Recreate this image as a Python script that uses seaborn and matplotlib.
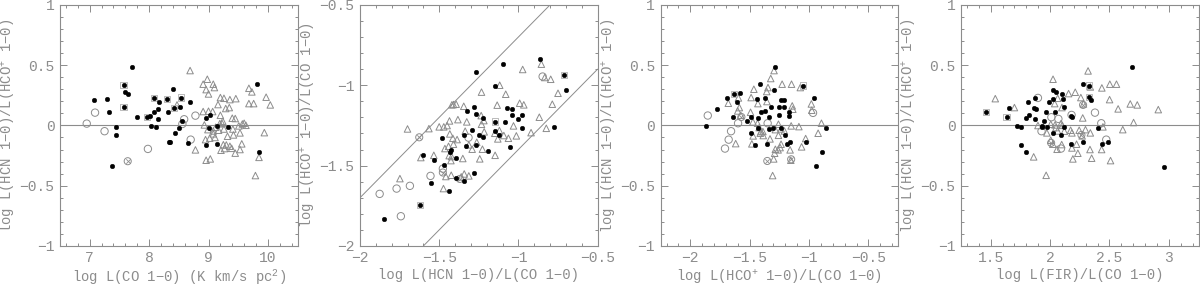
import matplotlib
matplotlib.use("Agg")
import matplotlib.pyplot as plt
from matplotlib.ticker import MultipleLocator
import seaborn as sns

# ---- panel 1: log L(CO) vs log HCN/HCO+ ----
p1_dot_x = [7.08, 7.29, 7.33, 7.57, 7.59, 7.65, 7.57, 7.72, 7.80, 7.45, 7.45, 7.37, 7.97, 8.02,
            8.08, 8.09, 8.15, 8.16, 8.15, 8.03, 8.12, 8.30, 8.31, 8.41, 8.42, 8.52, 8.54, 8.56,
            8.50, 8.44, 8.34, 8.36, 8.66, 8.69, 8.95, 9.02, 9.00, 9.14, 9.33, 8.96, 9.15, 9.81, 9.85]
p1_dot_y = [0.214, 0.217, 0.115, 0.333, 0.275, 0.26, 0.15, 0.488, 0.07, -0.015, -0.079, -0.34,
            0.068, 0.076, 0.228, 0.112, 0.134, 0.195, 0.051, -0.007, -0.015, 0.22, 0.112, 0.30,
            0.142, 0.15, 0.231, 0.035, -0.023, -0.062, -0.137, -0.134, -0.15, 0.195, 0.065, 0.09,
            -0.024, -0.004, -0.015, -0.16, -0.155, 0.342, -0.223]
p1_open_x = [6.95, 7.09, 7.25, 7.98, 8.59, 8.56, 8.78, 8.70]
p1_open_y = [0.015, 0.106, -0.048, -0.195, 0.051, 0.012, 0.081, -0.118]
p1_cross_x = [7.64]
p1_cross_y = [-0.297]
p1_sq_x = [7.57, 7.57, 7.97, 8.08, 8.30, 8.42, 8.54]
p1_sq_y = [0.333, 0.15, 0.068, 0.228, 0.22, 0.142, 0.231]
p1_tri_x = [8.69, 8.98, 8.91, 8.96, 9.08, 9.10, 9.00, 9.20, 9.26, 9.36, 9.46, 9.16, 8.91, 9.00,
            9.07, 9.29, 9.35, 9.20, 9.40, 9.45, 9.24, 9.19, 8.93, 8.99, 9.12, 9.08, 9.17, 9.26,
            9.23, 9.51, 9.57, 9.60, 9.63, 9.41, 9.53, 9.42, 9.32, 9.08, 8.95, 9.02, 9.11, 9.25,
            9.30, 9.36, 9.27, 9.21, 9.39, 9.56, 9.53, 9.45, 8.78, 8.96, 9.03, 9.68, 9.73, 9.68,
            9.76, 9.97, 10.04, 9.94, 9.85, 9.79, 8.47]
p1_tri_y = [0.455, 0.383, 0.342, 0.297, 0.342, 0.314, 0.261, 0.231, 0.225, 0.214, 0.222, 0.173,
            0.115, 0.118, 0.115, 0.14, 0.148, 0.084, 0.06, 0.057, 0.035, 0.015, 0.004, -0.035,
            -0.015, -0.046, -0.04, -0.03, 0.015, -0.004, 0.012, 0.018, 0.001, -0.03, -0.062,
            -0.079, -0.09, -0.07, -0.118, -0.106, -0.1, -0.16, -0.162, -0.173, -0.192, -0.206,
            -0.19, -0.153, -0.2, -0.23, -0.203, -0.289, -0.278, 0.308, 0.278, 0.181, 0.181, 0.234,
            0.17, -0.06, -0.265, -0.416, 0.17]

# ---- panel 2: log HCN/CO vs log HCO+/CO ----
p2_dot_x = [-1.849, -1.620, -1.601, -1.534, -1.485, -1.468, -1.426, -1.430, -1.395, -1.550,
            -1.437, -1.395, -1.342, -1.282, -1.332, -1.345, -1.290, -1.265, -1.246, -1.221,
            -1.193, -1.324, -1.282, -1.269, -1.225, -1.265, -1.147, -1.147, -1.124, -1.145,
            -1.097, -1.086, -1.071, -1.040, -1.042, -1.004, -0.977, -0.977, -1.050, -0.863,
            -0.710, -0.702, -0.775]
p2_dot_y = [-1.832, -1.743, -1.434, -1.463, -1.326, -1.494, -1.402, -1.415, -1.454, -1.606,
            -1.658, -1.579, -1.597, -1.548, -1.375, -1.311, -1.276, -1.369, -1.309, -1.321,
            -1.407, -1.160, -1.137, -1.180, -1.201, -0.919, -1.226, -1.282, -1.311, -1.004,
            -0.867, -1.226, -1.139, -1.145, -1.185, -1.209, -1.185, -1.268, -1.382, -0.836,
            -0.934, -1.029, -1.257]
p2_open_x = [-1.876, -1.769, -1.685, -1.742, -1.555, -1.477, -1.315, -0.847]
p2_open_y = [-1.676, -1.643, -1.626, -1.815, -1.564, -1.519, -1.326, -0.946]
p2_cross_x = [-1.626, -1.477, -1.370]
p2_cross_y = [-1.324, -1.543, -1.583]
p2_sq_x = [-1.620, -0.710, -1.147]
p2_sq_y = [-1.743, -0.934, -1.226]
p2_tri_x = [-1.700, -1.565, -1.616, -1.748, -1.534, -1.500, -1.471, -1.450, -1.435, -1.420,
            -1.410, -1.393, -1.382, -1.345, -1.326, -1.336, -1.433, -1.414, -1.387, -1.410,
            -1.441, -1.464, -1.437, -1.422, -1.426, -1.351, -1.313, -1.292, -1.263, -1.227,
            -1.216, -1.233, -1.235, -1.218, -1.233, -1.244, -1.147, -1.149, -1.130, -1.120,
            -1.092, -1.063, -1.013, -1.031, -1.134, -1.080, -1.118, -0.992, -0.966, -0.973,
            -0.855, -0.834, -0.796, -0.750, -0.786, -0.868, -0.824, -0.920, -1.424, -1.458,
            -1.342, -1.313, -1.361, -1.473]
p2_tri_y = [-1.272, -1.270, -1.450, -1.581, -1.436, -1.259, -1.259, -1.251, -1.222, -1.122,
            -1.120, -1.118, -1.214, -1.131, -1.228, -1.286, -1.303, -1.330, -1.338, -1.367,
            -1.380, -1.394, -1.438, -1.444, -1.469, -1.456, -1.371, -1.398, -1.355, -1.398,
            -1.290, -1.243, -1.189, -1.220, -1.043, -1.458, -1.436, -1.299, -1.334, -1.282,
            -1.313, -1.330, -1.315, -1.253, -1.124, -1.056, -1.000, -1.112, -1.122, -0.902,
            -0.869, -0.952, -0.963, -1.050, -1.118, -1.199, -1.268, -1.295, -1.560, -1.568,
            -1.552, -1.564, -1.570, -1.643]
band_offsets = [0.3, -0.4]

# ---- panel 3: log HCO+/CO vs log HCN/HCO+ ----
p3_dot_x = [-1.867, -1.779, -1.691, -1.629, -1.578, -1.609, -1.640, -1.524, -1.485, -1.411,
            -1.440, -1.374, -1.295, -1.403, -1.434, -1.338, -1.318, -1.372, -1.284, -1.253,
            -1.239, -1.213, -1.213, -1.171, -1.168, -1.256, -1.307, -1.335, -1.431, -1.490,
            -1.459, -1.357, -1.233, -1.205, -1.188, -1.160, -1.052, -0.958, -1.023, -0.859,
            -0.891, -0.941]
p3_dot_y = [-0.004, 0.137, 0.231, 0.261, 0.272, 0.192, 0.068, 0.037, 0.071, 0.342, 0.222, 0.228,
            0.297, 0.109, 0.065, 0.071, 0.151, 0.12, 0.488, 0.151, 0.209, 0.214, 0.151, 0.115,
            0.079, 0.087, -0.018, -0.026, -0.018, -0.059, -0.162, -0.153, -0.021, -0.082,
            -0.153, -0.137, 0.331, 0.231, -0.134, -0.021, -0.223, -0.339]
p3_open_x = [-1.853, -1.657, -1.677, -1.708, -1.598, -0.967, -1.349]
p3_open_y = [0.082, -0.048, -0.118, -0.192, 0.018, 0.104, 0.018]
p3_cross_x = [-1.352, -1.570, -1.151]
p3_cross_y = [-0.295, 0.070, -0.281]
p3_sq_x = [-1.629, -1.052]
p3_sq_y = [0.261, 0.331]
p3_tri_x = [-1.295, -1.323, -1.465, -1.346, -1.227, -1.148, -1.074, -1.357, -1.680, -1.595,
            -1.587, -1.601, -1.488, -1.431, -1.355, -1.493, -1.575, -1.473, -1.434, -1.142,
            -1.137, -0.981, -0.978, -1.151, -1.086, -0.896, -0.924, -1.029, -1.063, -1.258,
            -1.236, -1.284, -1.389, -1.406, -1.411, -1.471, -1.386, -1.618, -1.482, -1.258,
            -1.329, -1.208, -1.236, -1.244, -1.284, -1.261, -1.290, -1.160, -1.298, -1.154,
            -1.307, -1.420]
p3_tri_y = [0.455, 0.389, 0.30, 0.314, 0.342, 0.342, 0.314, 0.281, 0.184, 0.228, 0.148, 0.12,
            0.231, 0.181, 0.198, 0.109, 0.084, 0.029, 0.018, 0.162, 0.134, 0.178, 0.126, -0.004,
            -0.010, 0.018, -0.065, -0.109, -0.178, 0.010, -0.029, -0.035, -0.051, -0.051,
            -0.065, -0.087, -0.084, -0.151, -0.153, -0.082, -0.112, -0.046, -0.156, -0.184,
            -0.198, -0.203, -0.231, -0.203, -0.278, -0.289, -0.416, -0.018]

# ---- panel 4: log FIR/CO vs log HCN/HCO+ ----
p4_dot_x = [1.464, 1.634, 1.656, 1.723, 1.756, 1.759, 1.795, 1.795, 1.823, 1.812, 1.870, 1.878,
            1.862, 1.870, 1.928, 1.934, 1.948, 1.962, 1.978, 1.992, 2.028, 2.050, 2.025, 2.100,
            2.109, 2.042, 2.120, 2.028, 2.089, 2.120, 2.175, 2.184, 2.173, 2.275, 2.278, 2.328,
            2.331, 2.342, 2.403, 2.439, 2.489, 2.692, 2.962]
p4_dot_y = [0.109, 0.068, 0.148, -0.004, -0.015, -0.159, -0.223, 0.065, 0.087, 0.192, 0.231,
            0.134, 0.142, 0.051, -0.004, -0.012, 0.035, 0.109, -0.015, 0.192, 0.297, 0.275, 0.222,
            0.261, 0.220, 0.112, 0.151, -0.059, -0.082, -0.010, 0.079, 0.068, -0.151, -0.134,
            0.342, 0.331, 0.236, 0.214, -0.021, -0.153, -0.14, 0.488, -0.342]
p4_open_x = [1.928, 1.898, 2.011, 2.070, 2.181, 2.378, 2.431, 2.473, 2.092]
p4_open_y = [-0.048, 0.228, 0.068, 0.054, 0.087, 0.106, 0.018, -0.118, -0.192]
p4_cross_x = [2.264, 2.009, 2.278]
p4_cross_y = [-0.079, -0.145, 0.170]
p4_sq_x = [1.634, 1.464, 2.328, 2.331]
p4_sq_y = [0.068, 0.109, 0.331, 0.236]
p4_tri_x = [1.539, 1.700, 1.862, 1.967, 2.025, 2.039, 2.064, 2.100, 2.156, 2.212, 2.259, 2.320,
            2.339, 2.436, 2.503, 2.559, 2.501, 2.573, 2.675, 2.734, 2.911, 2.703, 2.612, 2.275,
            2.281, 1.898, 1.973, 2.006, 2.042, 2.050, 2.092, 2.103, 2.064, 2.120, 2.173, 2.184,
            2.245, 2.298, 2.339, 2.270, 2.445, 2.006, 2.023, 2.059, 2.098, 2.184, 2.223, 2.234,
            2.192, 2.336, 2.434, 2.350, 2.509]
p4_tri_y = [0.222, 0.148, -0.261, -0.414, 0.383, 0.181, 0.225, 0.148, 0.264, 0.275, 0.231,
            0.452, 0.319, 0.311, 0.342, 0.342, 0.214, 0.137, 0.178, 0.170, 0.131, 0.024, -0.035,
            0.062, 0.178, -0.001, -0.062, 0.010, 0.004, -0.018, 0.015, 0.001, -0.046, -0.048,
            -0.040, -0.062, -0.040, -0.035, -0.062, -0.087, -0.012, -0.123, -0.156, -0.198,
            -0.159, -0.187, -0.156, -0.231, -0.278, -0.2, -0.2, -0.272, -0.292]

GRAY = "#8c8c8c"
RATIO_LABEL = "log L(HCN 1\u22120)/L(HCO$^{+}$ 1\u22120)"

sns.set_style("ticks")
plt.rcParams["font.family"] = ["Liberation Mono", "DejaVu Sans Mono"]
plt.rcParams["mathtext.fontset"] = "custom"
plt.rcParams["mathtext.rm"] = "Liberation Mono"
plt.rcParams["mathtext.it"] = "Liberation Mono"
plt.rcParams["font.size"] = 10

fig = plt.figure(figsize=(12, 2.86), dpi=100)
lefts = [0.05, 0.30, 0.5505, 0.8008]
axes = [fig.add_axes([l, 0.14, 0.198, 0.843]) for l in lefts]


def draw(ax, dx, dy, ox, oy, cx, cy, sx, sy, tx, ty):
    sns.scatterplot(x=tx, y=ty, marker="^", s=22, facecolor="none", edgecolor=GRAY,
                    linewidth=0.7, ax=ax)
    sns.scatterplot(x=ox, y=oy, marker="o", s=28, facecolor="none", edgecolor=GRAY,
                    linewidth=0.7, ax=ax)
    sns.scatterplot(x=cx, y=cy, marker="o", s=26, facecolor="none", edgecolor=GRAY,
                    linewidth=0.7, ax=ax)
    sns.scatterplot(x=cx, y=cy, marker="x", s=10, color=GRAY, linewidth=0.6, ax=ax)
    sns.scatterplot(x=sx, y=sy, marker="s", s=20, facecolor="none", edgecolor="#b0b0b0",
                    linewidth=0.6, ax=ax)
    sns.scatterplot(x=dx, y=dy, marker="o", s=11, color="black", edgecolor="black",
                    linewidth=0.3, ax=ax)


def minus_fmt(v, pos):
    return f"{v:g}".replace("-", "\u2212")


def style(ax, xlim, ylim, xmaj, xmin, xlabel, ylabel):
    ax.set_xlim(*xlim)
    ax.set_ylim(*ylim)
    ax.xaxis.set_major_locator(MultipleLocator(xmaj))
    ax.xaxis.set_minor_locator(MultipleLocator(xmin))
    ax.yaxis.set_major_locator(MultipleLocator(0.5))
    ax.yaxis.set_minor_locator(MultipleLocator(0.1))
    ax.tick_params(which="both", direction="in", top=True, right=True, colors=GRAY,
                   labelcolor=GRAY, width=0.7, labelsize=10.5)
    ax.tick_params(which="major", length=5)
    ax.tick_params(which="minor", length=2.5)
    ax.tick_params(axis="x", pad=3.5)
    ax.tick_params(axis="y", pad=4)
    for sp in ax.spines.values():
        sp.set_edgecolor(GRAY)
        sp.set_linewidth(0.8)
    ax.set_xlabel(xlabel, color=GRAY, fontsize=10, labelpad=2)
    ax.set_ylabel(ylabel, color=GRAY, fontsize=10, labelpad=1)
    ax.xaxis.set_major_formatter(plt.FuncFormatter(minus_fmt))
    ax.yaxis.set_major_formatter(plt.FuncFormatter(minus_fmt))


ax1, ax2, ax3, ax4 = axes

draw(ax1, p1_dot_x, p1_dot_y, p1_open_x, p1_open_y, p1_cross_x, p1_cross_y,
     p1_sq_x, p1_sq_y, p1_tri_x, p1_tri_y)
ax1.axhline(0, color=GRAY, lw=0.8, zorder=0)
style(ax1, (6.5, 10.5), (-1, 1), 1, 0.2,
      "log L(CO 1\u22120) (K km/s pc$^{2}$)", RATIO_LABEL)

draw(ax2, p2_dot_x, p2_dot_y, p2_open_x, p2_open_y, p2_cross_x, p2_cross_y,
     p2_sq_x, p2_sq_y, p2_tri_x, p2_tri_y)
for off in band_offsets:
    ax2.axline((-2, -2 + off), slope=1, color=GRAY, lw=0.7, zorder=0)
style(ax2, (-2, -0.5), (-2, -0.5), 0.5, 0.1,
      "log L(HCN 1\u22120)/L(CO 1\u22120)", "log L(HCO$^{+}$ 1\u22120)/L(CO 1\u22120)")

draw(ax3, p3_dot_x, p3_dot_y, p3_open_x, p3_open_y, p3_cross_x, p3_cross_y,
     p3_sq_x, p3_sq_y, p3_tri_x, p3_tri_y)
ax3.axhline(0, color=GRAY, lw=0.8, zorder=0)
style(ax3, (-2.25, -0.25), (-1, 1), 0.5, 0.1,
      "log L(HCO$^{+}$ 1\u22120)/L(CO 1\u22120)", RATIO_LABEL)

draw(ax4, p4_dot_x, p4_dot_y, p4_open_x, p4_open_y, p4_cross_x, p4_cross_y,
     p4_sq_x, p4_sq_y, p4_tri_x, p4_tri_y)
ax4.axhline(0, color=GRAY, lw=0.8, zorder=0)
style(ax4, (1.25, 3.25), (-1, 1), 0.5, 0.1,
      "log L(FIR)/L(CO 1\u22120)", RATIO_LABEL)

fig.savefig("out.png", dpi=100, facecolor="white")
